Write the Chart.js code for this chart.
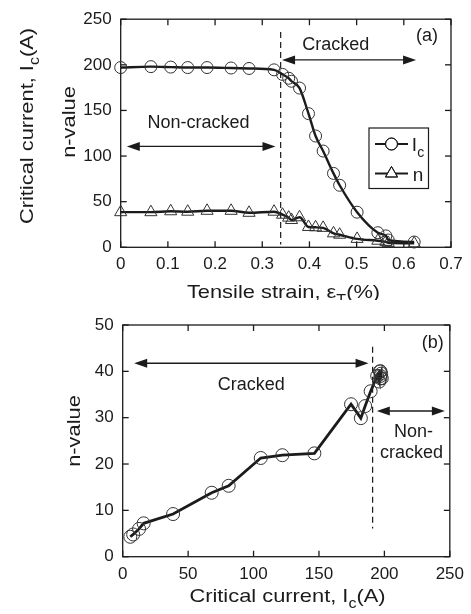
<!DOCTYPE html>
<html>
<head>
<meta charset="utf-8">
<script src="https://cdn.jsdelivr.net/npm/chart.js@4.4.0/dist/chart.umd.min.js"></script>
<style>
  html, body { margin: 0; padding: 0; background: #fff; }
  #wrap { position: relative; width: 471px; height: 614px; }
  .panel { position: absolute; left: 0; }
  #chartA { top: 0; }
  #chartB { top: 300px; }
</style>
</head>
<body>
<div id="wrap">
  <canvas id="chartA" class="panel" width="471" height="300"></canvas>
  <canvas id="chartB" class="panel" width="471" height="314"></canvas>
</div>
<script>
// tensile test: strain (%), critical current Ic (A) and n-value per step
const strain = [0, 0.064, 0.106, 0.142, 0.183, 0.234, 0.272, 0.325, 0.343, 0.356, 0.362, 0.379,
    0.398, 0.413, 0.429, 0.451, 0.464, 0.501, 0.545, 0.562, 0.567, 0.622];
const icValues = [197, 198, 197.5, 197, 197, 196.5, 196, 194.5, 189.5, 185.3, 182, 174.5,
    146.5, 122, 105.5, 81, 68, 38.5, 16, 12.5, 8, 5.8];
const nValues = [38.5, 38.5, 39.5, 39, 40, 40, 37.8, 39, 35.7, 32.5, 29.9, 32.9,
    22.3, 21.9, 21.3, 15.3, 13.8, 9.2, 7.2, 6, 4.8, 4.3];

const strainTicks = [0, 0.1, 0.2, 0.3, 0.4, 0.5, 0.6, 0.7];
const icTicks = [0, 50, 100, 150, 200, 250];
const currentTicks = [0, 50, 100, 150, 200, 250];
const nTicks = [0, 10, 20, 30, 40, 50];

const FONT = '"Liberation Sans", Arial, sans-serif';
const INK = '#1b1b1b';

function line(ctx, x1, y1, x2, y2) {
    ctx.beginPath();
    ctx.moveTo(x1, y1);
    ctx.lineTo(x2, y2);
    ctx.stroke();
}

function arrowHead(ctx, x, y, dir) {
    ctx.beginPath();
    ctx.moveTo(x, y);
    ctx.lineTo(x - dir * 13, y - 4.5);
    ctx.lineTo(x - dir * 13, y + 4.5);
    ctx.closePath();
    ctx.fill();
}

// text with optional subscripts, centred on (x, y) baseline; stretch widens the glyphs
function richText(ctx, parts, x, y, size, rotate, stretch) {
    const big = size + "px " + FONT;
    const small = Math.round(size * 0.72) + "px " + FONT;
    ctx.save();
    ctx.translate(x, y);
    if (rotate) ctx.rotate(-Math.PI / 2);
    ctx.scale(stretch || 1, 1);
    ctx.textAlign = "left";
    ctx.textBaseline = "alphabetic";
    let total = 0;
    parts.forEach(p => {
        ctx.font = p.sub ? small : big;
        total += ctx.measureText(p.text).width;
    });
    let cx = -total / 2;
    parts.forEach(p => {
        ctx.font = p.sub ? small : big;
        ctx.fillText(p.text, cx, p.sub ? size * 0.34 : 0);
        cx += ctx.measureText(p.text).width;
    });
    ctx.restore();
}

const decor = {
    id: "decor",
    beforeDatasetsDraw(chart, args, opts) {
        const ctx = chart.ctx;
        const xs = chart.scales.x, ys = chart.scales.y;
        const a = chart.chartArea;
        ctx.save();
        ctx.strokeStyle = INK;
        ctx.fillStyle = INK;
        ctx.lineWidth = 1.3;
        ctx.strokeRect(a.left, a.top, a.right - a.left, a.bottom - a.top);
        // tick marks point inwards on every side
        xs.ticks.forEach(t => {
            const px = xs.getPixelForValue(t.value);
            line(ctx, px, a.bottom, px, a.bottom - 6);
            line(ctx, px, a.top, px, a.top + 6);
        });
        ys.ticks.forEach(t => {
            const py = ys.getPixelForValue(t.value);
            line(ctx, a.left, py, a.left + 6, py);
            line(ctx, a.right, py, a.right - 6, py);
        });

        // dashed boundary between cracked / non-cracked
        const d = opts.divider;
        ctx.lineWidth = 1.2;
        ctx.setLineDash([6, 4]);
        line(ctx, xs.getPixelForValue(d.x), ys.getPixelForValue(d.from),
            xs.getPixelForValue(d.x), ys.getPixelForValue(d.to));
        ctx.setLineDash([]);

        ctx.lineWidth = 1.4;
        opts.arrows.forEach(ar => {
            const x1 = xs.getPixelForValue(ar.from), x2 = xs.getPixelForValue(ar.to);
            const y = ys.getPixelForValue(ar.y);
            line(ctx, x1 + 6, y, x2 - 6, y);
            arrowHead(ctx, x1, y, -1);
            arrowHead(ctx, x2, y, 1);
        });

        ctx.font = "18px " + FONT;
        ctx.textAlign = "center";
        ctx.textBaseline = "middle";
        opts.notes.forEach(n => {
            ctx.fillText(n.text, xs.getPixelForValue(n.x), ys.getPixelForValue(n.y));
        });

        opts.titles.forEach(t => richText(ctx, t.parts, t.x, t.y, t.size, t.rotate, 1.15));

        if (opts.legend) {
            const lg = opts.legend;
            ctx.lineWidth = 1.2;
            ctx.strokeRect(lg.left, lg.top, lg.width, lg.height);
            lg.rows.forEach(r => {
                ctx.lineWidth = 2.2;
                line(ctx, lg.left + 6, r.y, lg.left + 39, r.y);
                ctx.lineWidth = 1;
                ctx.fillStyle = "#fff";
                Chart.helpers.drawPoint(ctx, { pointStyle: r.style, radius: r.radius, borderWidth: 1 },
                    lg.left + 22.5, r.y);
                ctx.stroke();
                ctx.fillStyle = INK;
                richText(ctx, r.parts, lg.left + 49, r.y + 7, 19, false, 1);
            });
        }
        ctx.restore();
    }
};

function tickScale(values, min, max, pad, fit) {
    return {
        type: "linear",
        min: min,
        max: max,
        grid: { display: false, drawTicks: false },
        border: { display: false },
        afterBuildTicks: s => { s.ticks = values.map(v => ({ value: v })); },
        ticks: {
            font: { size: 17, family: FONT },
            color: INK,
            padding: pad,
            maxRotation: 0,
            autoSkip: false,
            callback: v => String(v)
        },
        afterFit: fit
    };
}

const pointStyleBase = {
    borderColor: INK,
    pointBorderColor: "#333",
    pointBackgroundColor: "rgba(0,0,0,0)",
    pointBorderWidth: 1,
    clip: false
};

// (a) Ic and n-value against tensile strain
new Chart(document.getElementById("chartA"), {
    type: "line",
    data: {
        datasets: [
            Object.assign({
                label: "Ic",
                data: strain.map((s, i) => ({ x: s, y: icValues[i] })),
                borderWidth: 2.4,
                pointStyle: "circle",
                pointRadius: 6,
                cubicInterpolationMode: "monotone"
            }, pointStyleBase),
            Object.assign({
                label: "n",
                data: strain.map((s, i) => ({ x: s, y: nValues[i] })),
                borderWidth: 2.4,
                pointStyle: "triangle",
                pointRadius: 7,
                cubicInterpolationMode: "monotone"
            }, pointStyleBase)
        ]
    },
    options: {
        responsive: false,
        animation: false,
        events: [],
        layout: { padding: { left: 0, right: 20, top: 16, bottom: 0 } },
        scales: {
            x: tickScale(strainTicks, 0, 0.7, 7, s => { s.height = 52.7; }),
            y: tickScale(icTicks, 0, 250, 9, s => { s.width = 120.7; })
        },
        plugins: {
            legend: { display: false },
            tooltip: { enabled: false },
            decor: {
                divider: { x: 0.339, from: 236, to: 3 },
                arrows: [
                    { from: 0.013, to: 0.328, y: 110.6 },
                    { from: 0.342, to: 0.626, y: 205.4 }
                ],
                notes: [
                    { text: "Non-cracked", x: 0.165, y: 136 },
                    { text: "Cracked", x: 0.456, y: 222 },
                    { text: "(a)", x: 0.649, y: 231.4 }
                ],
                titles: [
                    { parts: [{ text: "Critical current, I" }, { text: "c", sub: true }, { text: "(A)" }],
                        x: 33, y: 126, size: 19, rotate: true },
                    { parts: [{ text: "n-value" }], x: 75, y: 122, size: 19, rotate: true },
                    { parts: [{ text: "Tensile strain, \u03b5" }, { text: "T", sub: true }, { text: "(%)" }],
                        x: 283.5, y: 297.5, size: 19, rotate: false }
                ],
                legend: {
                    left: 369, top: 128, width: 59.5, height: 60.5,
                    rows: [
                        { style: "circle", radius: 6, y: 144, parts: [{ text: "I" }, { text: "c", sub: true }] },
                        { style: "triangle", radius: 7, y: 173.5, parts: [{ text: "n" }] }
                    ]
                }
            }
        }
    },
    plugins: [decor]
});

// (b) n-value against critical current
new Chart(document.getElementById("chartB"), {
    type: "line",
    data: {
        datasets: [
            Object.assign({
                label: "n vs Ic",
                data: icValues.map((c, i) => ({ x: c, y: nValues[i] })),
                borderWidth: 2.8,
                pointStyle: "circle",
                pointRadius: 6.5,
                tension: 0
            }, pointStyleBase)
        ]
    },
    options: {
        responsive: false,
        animation: false,
        events: [],
        layout: { padding: { left: 0, right: 19.3, top: 25, bottom: 0 } },
        scales: {
            x: tickScale(currentTicks, 0, 250, 7, s => { s.height = 57.3; }),
            y: tickScale(nTicks, 0, 50, 9, s => { s.width = 122.7; })
        },
        plugins: {
            legend: { display: false },
            tooltip: { enabled: false },
            decor: {
                divider: { x: 191, from: 45.3, to: 6.1 },
                arrows: [
                    { from: 8.8, to: 187.9, y: 41.74 },
                    { from: 194.2, to: 246.2, y: 31.45 }
                ],
                notes: [
                    { text: "Cracked", x: 98.2, y: 37.06 },
                    { text: "Non-", x: 222.3, y: 26.98 },
                    { text: "cracked", x: 220.8, y: 22.45 },
                    { text: "(b)", x: 237, y: 46.05 }
                ],
                titles: [
                    { parts: [{ text: "n-value" }], x: 80, y: 131, size: 19, rotate: true },
                    { parts: [{ text: "Critical current, I" }, { text: "c", sub: true }, { text: "(A)" }],
                        x: 287.5, y: 301.5, size: 19, rotate: false }
                ]
            }
        }
    },
    plugins: [decor]
});
</script>
</body>
</html>
